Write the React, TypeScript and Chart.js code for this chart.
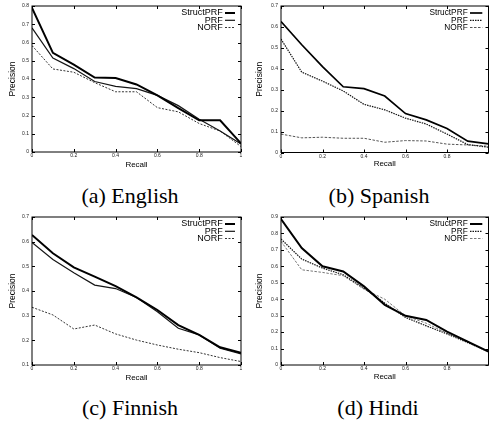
import React, { useEffect, useRef } from "react";
import { Chart, registerables } from "chart.js";

Chart.register(...registerables);

// ---------- data ----------
const recall = [0, 0.1, 0.2, 0.3, 0.4, 0.5, 0.6, 0.7, 0.8, 0.9, 1.0];
const seriesNames = ["StructPRF", "PRF", "NORF"];

const englishStructPRF = [0.79, 0.543, 0.479, 0.408, 0.405, 0.37, 0.31, 0.24, 0.174, 0.174, 0.047];
const englishPRF = [0.68, 0.515, 0.457, 0.386, 0.36, 0.347, 0.31, 0.254, 0.18, 0.115, 0.044];
const englishNORF = [0.583, 0.455, 0.437, 0.38, 0.33, 0.33, 0.243, 0.22, 0.156, 0.115, 0.03];

const spanishStructPRF = [0.626, 0.515, 0.41, 0.314, 0.305, 0.27, 0.186, 0.156, 0.115, 0.054, 0.041];
const spanishPRF = [0.542, 0.384, 0.341, 0.294, 0.23, 0.204, 0.164, 0.136, 0.088, 0.038, 0.025];
const spanishNORF = [0.088, 0.07, 0.073, 0.068, 0.068, 0.049, 0.057, 0.055, 0.04, 0.036, 0.03];

const finnishStructPRF = [0.627, 0.553, 0.496, 0.458, 0.42, 0.374, 0.323, 0.262, 0.222, 0.172, 0.15];
const finnishPRF = [0.597, 0.528, 0.474, 0.424, 0.41, 0.374, 0.316, 0.249, 0.222, 0.168, 0.145];
const finnishNORF = [0.334, 0.303, 0.246, 0.262, 0.226, 0.201, 0.181, 0.164, 0.15, 0.13, 0.114];

const hindiStructPRF = [0.888, 0.711, 0.6, 0.569, 0.478, 0.366, 0.299, 0.274, 0.203, 0.142, 0.081];
const hindiPRF = [0.766, 0.644, 0.589, 0.549, 0.467, 0.376, 0.289, 0.238, 0.189, 0.136, 0.081];
const hindiNORF = [0.752, 0.579, 0.563, 0.543, 0.461, 0.4, 0.299, 0.254, 0.193, 0.14, 0.081];

const captions = ["(a) English", "(b) Spanish", "(c) Finnish", "(d) Hindi"];
const yRanges = [
  [0, 0.8],
  [0, 0.7],
  [0.1, 0.7],
  [0, 0.9],
];

// ---------- styles ----------
type LineStyle = { color: string; width: number; dash: number[] };
const styleSolidSet: LineStyle[] = [
  { color: "#000", width: 2, dash: [] },
  { color: "#151515", width: 1.2, dash: [] },
  { color: "#333", width: 1, dash: [2, 1.5] },
];
const styleDottedSet: LineStyle[] = [
  { color: "#000", width: 1.7, dash: [] },
  { color: "#151515", width: 1.2, dash: [1.5, 1] },
  { color: "#555", width: 1, dash: [2.5, 1.5] },
];

type PanelCfg = {
  left: number;
  top: number;
  w: number;
  h: number;
  plot: { l: number; t: number; r: number; b: number };
  yTitlePad: number;
  xTitlePad: number;
  yMin: number;
  yMax: number;
  series: number[][];
  styles: LineStyle[];
  legendFont: number;
  legendTextRight: number;
  legendSample: [number, number];
  cropped: boolean;
};

const panels: PanelCfg[] = [
  {
    left: 0, top: 0, w: 245, h: 172,
    plot: { l: 32, t: 4, r: 241, b: 152 },
    yTitlePad: 7.6, xTitlePad: 2.9,
    yMin: yRanges[0][0], yMax: yRanges[0][1],
    series: [englishStructPRF, englishPRF, englishNORF],
    styles: styleSolidSet, legendFont: 9, legendTextRight: 18.3, legendSample: [16, 6],
    cropped: false,
  },
  {
    left: 245, top: 0, w: 255, h: 172,
    plot: { l: 36, t: 4, r: 243.5, b: 152.5 },
    yTitlePad: 9.9, xTitlePad: 3.6,
    yMin: yRanges[1][0], yMax: yRanges[1][1],
    series: [spanishStructPRF, spanishPRF, spanishNORF],
    styles: styleDottedSet, legendFont: 8.3, legendTextRight: 20.8, legendSample: [18.5, 6.2],
    cropped: true,
  },
  {
    left: 0, top: 208, w: 245, h: 175,
    plot: { l: 32, t: 9, r: 241, b: 157 },
    yTitlePad: 7.6, xTitlePad: 0.6,
    yMin: yRanges[2][0], yMax: yRanges[2][1],
    series: [finnishStructPRF, finnishPRF, finnishNORF],
    styles: styleSolidSet, legendFont: 9, legendTextRight: 18.3, legendSample: [16, 6],
    cropped: false,
  },
  {
    left: 245, top: 208, w: 255, h: 175,
    plot: { l: 36, t: 9, r: 243.5, b: 157 },
    yTitlePad: 9.9, xTitlePad: 1.9,
    yMin: yRanges[3][0], yMax: yRanges[3][1],
    series: [hindiStructPRF, hindiPRF, hindiNORF],
    styles: [
      { color: "#000", width: 2, dash: [] },
      { color: "#151515", width: 1.2, dash: [1.5, 1] },
      { color: "#777", width: 1, dash: [2.5, 1.5] },
    ],
    legendFont: 8.3, legendTextRight: 20.8, legendSample: [18.5, 6.2],
    cropped: true,
  },
];

const captionPos = [
  { cx: 130, top: 185 },
  { cx: 379, top: 185 },
  { cx: 130, top: 396.6 },
  { cx: 378, top: 396.6 },
];

const FONT = "'Liberation Sans', Arial, Helvetica, sans-serif";

const fmt = (v: number) => String(+Number(v).toFixed(2));

function Panel({ cfg }: { cfg: PanelCfg }) {
  const ref = useRef<HTMLCanvasElement | null>(null);
  useEffect(() => {
    if (!ref.current) return;
    const frame = {
      id: "gnuframe",
      afterDraw(chart: any) {
        const { ctx, chartArea: a, scales } = chart;
        ctx.save();
        ctx.strokeStyle = "#000";
        ctx.lineWidth = 1;
        ctx.setLineDash([]);
        ctx.strokeRect(a.left, a.top, a.right - a.left, a.bottom - a.top);
        const tl = 3;
        ctx.beginPath();
        scales.x.ticks.forEach((t: any) => {
          const px = Math.round(scales.x.getPixelForValue(t.value)) + 0.5;
          ctx.moveTo(px, a.bottom);
          ctx.lineTo(px, a.bottom - tl);
          ctx.moveTo(px, a.top);
          ctx.lineTo(px, a.top + tl);
        });
        scales.y.ticks.forEach((t: any) => {
          const py = Math.round(scales.y.getPixelForValue(t.value)) + 0.5;
          ctx.moveTo(a.left, py);
          ctx.lineTo(a.left + tl, py);
          ctx.moveTo(a.right, py);
          ctx.lineTo(a.right - tl, py);
        });
        ctx.stroke();
        // legend (gnuplot style, top right inside)
        const rows = [7, 14.3, 21.5];
        ctx.font = `${cfg.legendFont}px ${FONT}`;
        ctx.textAlign = "right";
        ctx.textBaseline = "middle";
        chart.data.datasets.forEach((ds: any, i: number) => {
          const y = a.top + rows[i];
          ctx.fillStyle = "#000";
          ctx.fillText(ds.label, a.right - cfg.legendTextRight, y);
          ctx.beginPath();
          ctx.strokeStyle = ds.borderColor;
          ctx.lineWidth = ds.borderWidth;
          ctx.setLineDash(ds.borderDash || []);
          ctx.moveTo(a.right - cfg.legendSample[0], y);
          ctx.lineTo(a.right - cfg.legendSample[1], y);
          ctx.stroke();
        });
        ctx.restore();
      },
    };
    const chart = new Chart(ref.current, {
      type: "line",
      data: {
        datasets: cfg.series.map((vals, i) => ({
          label: seriesNames[i],
          data: recall.map((r, j) => ({ x: r, y: vals[j] })),
          borderColor: cfg.styles[i].color,
          borderWidth: cfg.styles[i].width,
          borderDash: cfg.styles[i].dash,
          pointRadius: 0,
          fill: false,
          tension: 0,
        })),
      },
      options: {
        animation: false,
        responsive: false,
        maintainAspectRatio: false,
        layout: {
          padding: { left: 0, top: cfg.plot.t, right: cfg.w - cfg.plot.r, bottom: 0 },
        },
        plugins: { legend: { display: false }, tooltip: { enabled: false } },
        scales: {
          x: {
            type: "linear",
            min: 0,
            max: 1,
            grid: { display: false, drawTicks: false, tickLength: 0 },
            border: { display: false },
            ticks: {
              stepSize: 0.2,
              autoSkip: false,
              maxRotation: 0,
              padding: 1,
              color: "#222",
              font: { size: 5, family: FONT },
              callback: (v: any) => (cfg.cropped && Number(v) >= 1 ? "" : fmt(v)),
            },
            title: {
              display: true,
              text: "Recall",
              color: "#000",
              font: { size: 8, family: FONT },
              padding: { top: 0, bottom: cfg.xTitlePad },
            },
            afterFit: (s: any) => {
              s.height = cfg.h - cfg.plot.b;
            },
          },
          y: {
            type: "linear",
            min: cfg.yMin,
            max: cfg.yMax,
            grid: { display: false, drawTicks: false, tickLength: 0 },
            border: { display: false },
            ticks: {
              stepSize: 0.1,
              autoSkip: false,
              padding: 3,
              color: "#222",
              font: { size: 5, family: FONT },
              callback: (v: any) => fmt(v),
            },
            title: {
              display: true,
              text: "Precision",
              color: "#000",
              font: { size: 8.5, family: FONT },
              padding: { top: cfg.yTitlePad, bottom: 0 },
            },
            afterFit: (s: any) => {
              s.width = cfg.plot.l;
            },
          },
        },
      },
      plugins: [frame],
    } as any);
    return () => chart.destroy();
  }, [cfg]);
  return (
    <canvas
      ref={ref}
      width={cfg.w}
      height={cfg.h}
      style={{ position: "absolute", left: cfg.left, top: cfg.top, width: cfg.w, height: cfg.h }}
    />
  );
}

export default function App() {
  return (
    <div
      style={{
        position: "fixed",
        left: 0,
        top: 0,
        width: 489,
        height: 425,
        overflow: "hidden",
        background: "#fff",
      }}
    >
      {panels.map((p, i) => (
        <Panel key={i} cfg={p} />
      ))}
      {captions.map((c, i) => (
        <div
          key={c}
          style={{
            position: "absolute",
            left: captionPos[i].cx - 100,
            top: captionPos[i].top,
            width: 200,
            textAlign: "center",
            fontFamily: "'Liberation Serif', 'Times New Roman', serif",
            fontSize: 22,
            lineHeight: "22px",
            color: "#000",
            whiteSpace: "nowrap",
          }}
        >
          {c}
        </div>
      ))}
    </div>
  );
}
